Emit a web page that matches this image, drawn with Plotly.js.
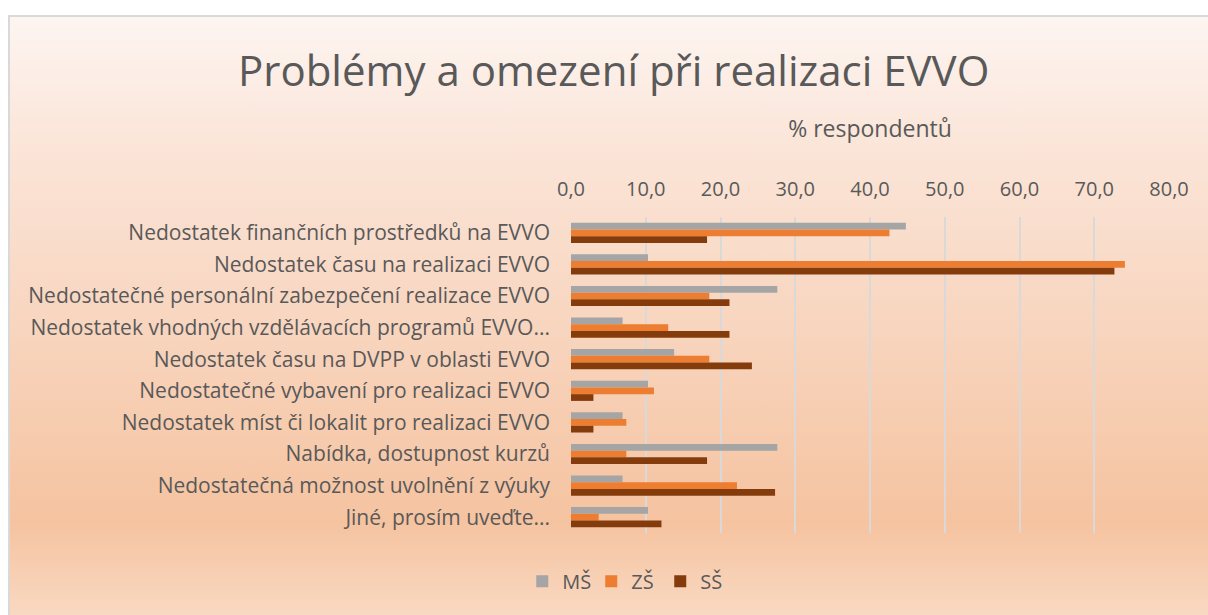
<!DOCTYPE html>
<html>
<head>
<meta charset="utf-8">
<script src="https://cdn.plot.ly/plotly-3.0.1.min.js"></script>
<style>
  html, body { margin: 0; padding: 0; background: #ffffff; }
  #frame {
    position: absolute; left: 8px; top: 15px; width: 1220px; height: 620px;
    border: 2px solid #d9d9d9; box-sizing: border-box;
    background: linear-gradient(to bottom, #fdf5f1 0px, #fbe6da 120px, #f8d6c0 300px, #f5c3a0 505px, #f9d9c2 600px);
  }
  #chart { position: absolute; left: 0; top: 0; width: 1208px; height: 615px; }
</style>
</head>
<body>
<div id="frame"></div>
<div id="chart"></div>
<script>
const categories = [
  "Nedostatek finančních prostředků na EVVO",
  "Nedostatek času na realizaci EVVO",
  "Nedostatečné personální zabezpečení realizace EVVO",
  "Nedostatek vhodných vzdělávacích programů EVVO...",
  "Nedostatek času na DVPP v oblasti EVVO",
  "Nedostatečné vybavení pro realizaci EVVO",
  "Nedostatek míst či lokalit pro realizaci EVVO",
  "Nabídka, dostupnost kurzů",
  "Nedostatečná možnost uvolnění z výuky",
  "Jiné, prosím uveďte..."
];
const seriesNames = ["MŠ", "ZŠ", "SŠ"];
const valuesMS = [44.8, 10.3, 27.6, 6.9, 13.8, 10.3, 6.9, 27.6, 6.9, 10.3];
const valuesZS = [42.6, 74.1, 18.5, 13.0, 18.5, 11.1, 7.4, 7.4, 22.2, 3.7];
const valuesSS = [18.2, 72.7, 21.2, 21.2, 24.2, 3.0, 3.0, 18.2, 27.3, 12.1];
const colors = ["#a5a5a5", "#ed7d31", "#843c0c"];
const tickVals = [0, 10, 20, 30, 40, 50, 60, 70, 80];

const allValues = [valuesMS, valuesZS, valuesSS];
const traces = allValues.map((vals, i) => ({
  type: "bar",
  orientation: "h",
  name: seriesNames[i],
  x: vals,
  y: categories,
  marker: { color: colors[i], line: { width: 0 } },
  hoverinfo: "x+name"
}));

const fontFam = "'Open Sans', Lato, sans-serif";
const layout = {
  width: 1208, height: 615,
  paper_bgcolor: "rgba(0,0,0,0)",
  plot_bgcolor: "rgba(0,0,0,0)",
  separators: ", ",
  margin: { l: 571, r: 39, t: 217, b: 82 },
  barmode: "group",
  bargap: 0.36,
  bargroupgap: 0,
  font: { family: fontFam, color: "#595959", size: 18 },
  title: {
    text: "Problémy a omezení při realizaci EVVO",
    font: { family: fontFam, size: 42, color: "#595959" },
    x: 0.508, xanchor: "center", xref: "container",
    y: 0.884, yanchor: "middle", yref: "container"
  },
  xaxis: {
    side: "top",
    range: [0, 80],
    tickvals: tickVals,
    tickformat: ".1f",
    showgrid: true,
    gridcolor: "#d9d9d9",
    gridwidth: 2,
    zeroline: false,
    showline: false,
    ticks: "",
    ticklabelstandoff: 16,
    tickfont: { size: 20, color: "#595959" },
    title: { text: "% respondentů", font: { size: 23, color: "#595959" }, standoff: 30 },
    fixedrange: true
  },
  yaxis: {
    autorange: "reversed",
    showgrid: false,
    zeroline: false,
    showline: false,
    ticks: "",
    ticklabelstandoff: 20,
    tickfont: { size: 21, color: "#595959" },
    fixedrange: true
  },
  legend: {
    orientation: "h",
    xref: "container", yref: "container",
    x: 0.518, xanchor: "center",
    y: 0.055, yanchor: "middle",
    font: { size: 20, color: "#595959" },
    itemwidth: 30,
    entrywidth: 24,
    entrywidthmode: "pixels",
    traceorder: "normal",
    bgcolor: "rgba(0,0,0,0)"
  },
  showlegend: true
};

Plotly.newPlot("chart", traces, layout, { displayModeBar: false, staticPlot: true });
</script>
</body>
</html>
